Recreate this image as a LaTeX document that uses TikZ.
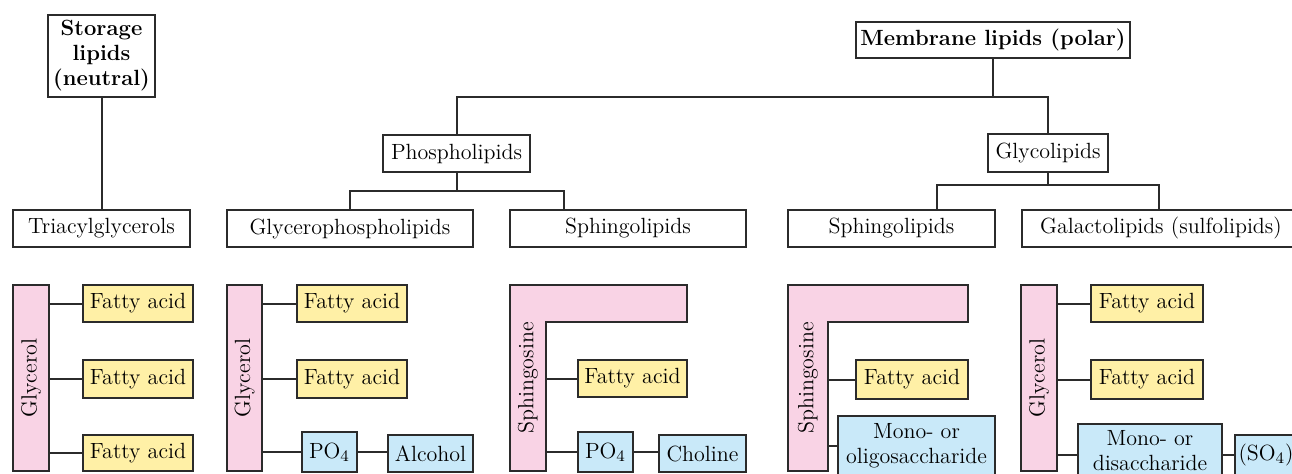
\documentclass[tikz,border=0pt]{standalone}
\usetikzlibrary{fit,calc}
\definecolor{pinkc}{HTML}{F9D3E5}
\definecolor{yelc}{HTML}{FFF0A6}
\definecolor{bluec}{HTML}{C9E9F9}
\definecolor{linec}{HTML}{2B2B2B}
\begin{document}
\begin{tikzpicture}[x=0.5pt,y=-0.5pt,
  every node/.style={font=\fontsize{11}{12.5}\selectfont, text=black},
  bx/.style={draw=linec, line width=1pt, inner sep=0pt},
  txt/.style={label={[align=center, inner sep=0pt]center:#1}},
  wbox/.style={bx, fill=white},
  pbox/.style={bx, fill=pinkc},
  ybox/.style={bx, fill=yelc},
  cbox/.style={bx, fill=bluec},
  wire/.style={draw=linec, line width=1pt},
  lshape/.style={draw=linec, fill=pinkc, line width=1pt},
  vlabel/.style={rotate=90, inner sep=0pt}]
\clip (0,0) rectangle (1292,473);
\fill[white] (0,0) rectangle (1292,473);

% top levels
\node[wbox, fit={(48,15)(155,97)}, txt={\bfseries Storage\\\bfseries lipids\\\bfseries (neutral)}] (storage) {};
\node[wbox, fit={(856,22)(1130,58)}, txt={\bfseries Membrane lipids (polar)}] (membrane) {};
\node[wbox, fit={(383,135)(530,172)}, txt={Phospholipids}] (phospho) {};
\node[wbox, fit={(988,134)(1108,172)}, txt={Glycolipids}] (glyco) {};
\node[wbox, fit={(13,210)(190,247)}, txt={Triacylglycerols}] (tag) {};
\node[wbox, fit={(227,210)(473,247)}, txt={Glycerophospholipids}] (gpl) {};
\node[wbox, fit={(510,210)(746,247)}, txt={Sphingolipids}] (spl1) {};
\node[wbox, fit={(788,210)(995,247)}, txt={Sphingolipids}] (spl2) {};
\node[wbox, fit={(1022,210)(1300,247)}, txt={Galactolipids (sulfolipids)}] (gal) {};

\coordinate (mbus) at (993,97);
\coordinate (pbus) at (456.5,191);
\coordinate (gbus) at (1048,185);
\coordinate (s1top) at ($(spl1.north west)+(55,0)$);
\coordinate (s2top) at ($(spl2.north west)+(150,0)$);
\coordinate (galtop) at ($(gal.north west)+(138,0)$);

\draw[wire] (storage.south) -- (tag.north);
\draw[wire] (membrane.south) -- (mbus);
\draw[wire] (phospho.north) |- (mbus) -| (glyco.north);
\draw[wire] (phospho.south) -- (pbus);
\draw[wire] (gpl.north) |- (pbus) -| (s1top);
\draw[wire] (glyco.south) -- (gbus);
\draw[wire] (s2top) |- (gbus) -| (galtop);

% group 1: triacylglycerol
\node[pbox, fit={(13,285)(49,471)}] (gly1) {};
\node[vlabel] (gly1t) at (gly1.center) {Glycerol};
\node[ybox, fit={(83,285)(193,322)}, txt={Fatty acid}] (fa11) {};
\node[ybox, fit={(83,360)(193,398)}, txt={Fatty acid}] (fa12) {};
\node[ybox, fit={(83,435)(193,471)}, txt={Fatty acid}] (fa13) {};
\draw[wire] (gly1.east |- fa11.west) -- (fa11.west);
\draw[wire] (gly1.east |- fa12.west) -- (fa12.west);
\draw[wire] (gly1.east |- fa13.west) -- (fa13.west);

% group 2: glycerophospholipid
\node[pbox, fit={(227,285)(262,471)}] (gly2) {};
\node[vlabel] (gly2t) at (gly2.center) {Glycerol};
\node[ybox, fit={(297,285)(407,322)}, txt={Fatty acid}] (fa21) {};
\node[ybox, fit={(297,360)(407,398)}, txt={Fatty acid}] (fa22) {};
\node[cbox, fit={(302,432)(357,472)}, txt={PO$_4$}] (po1) {};
\node[cbox, fit={(388,435)(473,472)}, txt={Alcohol}] (alc) {};
\draw[wire] (gly2.east |- fa21.west) -- (fa21.west);
\draw[wire] (gly2.east |- fa22.west) -- (fa22.west);
\draw[wire] (gly2.east |- po1.west) -- (po1.west);
\draw[wire] (po1.east) -- (po1.east -| alc.west);

% group 3: sphingolipid (phospho)
\draw[lshape] (510,285) -- (687,285) -- (687,322) -- (546,322) -- (546,471) -- (510,471) -- cycle;
\node[fit={(510,285)(546,471)}, inner sep=0pt] (sph1) {};
\node[vlabel] (sph1t) at (sph1.center) {Sphingosine};
\node[ybox, fit={(578,360)(687,397)}, txt={Fatty acid}] (fa31) {};
\node[cbox, fit={(578,432)(633,472)}, txt={PO$_4$}] (po2) {};
\node[cbox, fit={(659,435)(746,472)}, txt={Choline}] (chol) {};
\draw[wire] (sph1.east |- fa31.west) -- (fa31.west);
\draw[wire] (sph1.east |- po2.west) -- (po2.west);
\draw[wire] (po2.east) -- (po2.east -| chol.west);

% group 4: sphingolipid (glyco)
\draw[lshape] (788,285) -- (968,285) -- (968,322) -- (828,322) -- (828,471) -- (788,471) -- cycle;
\node[fit={(788,285)(828,471)}, inner sep=0pt] (sph2) {};
\node[vlabel] (sph2t) at (sph2.center) {Sphingosine};
\node[ybox, fit={(856,360)(968,399)}, txt={Fatty acid}] (fa41) {};
\node[cbox, fit={(838,416)(995,475)}, txt={Mono- or\\oligosaccharide}] (mono1) {};
\draw[wire] (sph2.east |- fa41.west) -- (fa41.west);
\draw[wire] (sph2.east |- mono1.west) -- (mono1.west);

% group 5: galactolipid
\node[pbox, fit={(1021,285)(1057,471)}] (gly5) {};
\node[vlabel] (gly5t) at (gly5.center) {Glycerol};
\node[ybox, fit={(1091,285)(1203,322)}, txt={Fatty acid}] (fa51) {};
\node[ybox, fit={(1091,360)(1203,399)}, txt={Fatty acid}] (fa52) {};
\node[cbox, fit={(1078,424)(1222,477)}, txt={Mono- or\\disaccharide}] (mono2) {};
\node[cbox, fit={(1235,435)(1297,475)}, txt={(SO$_4$)}] (so4) {};
\draw[wire] (gly5.east |- so4.west) -- (mono2.west |- so4.west);
\draw[wire] (gly5.east |- fa51.west) -- (fa51.west);
\draw[wire] (gly5.east |- fa52.west) -- (fa52.west);
\draw[wire] (mono2.east |- so4.west) -- (so4.west);
\end{tikzpicture}
\end{document}
